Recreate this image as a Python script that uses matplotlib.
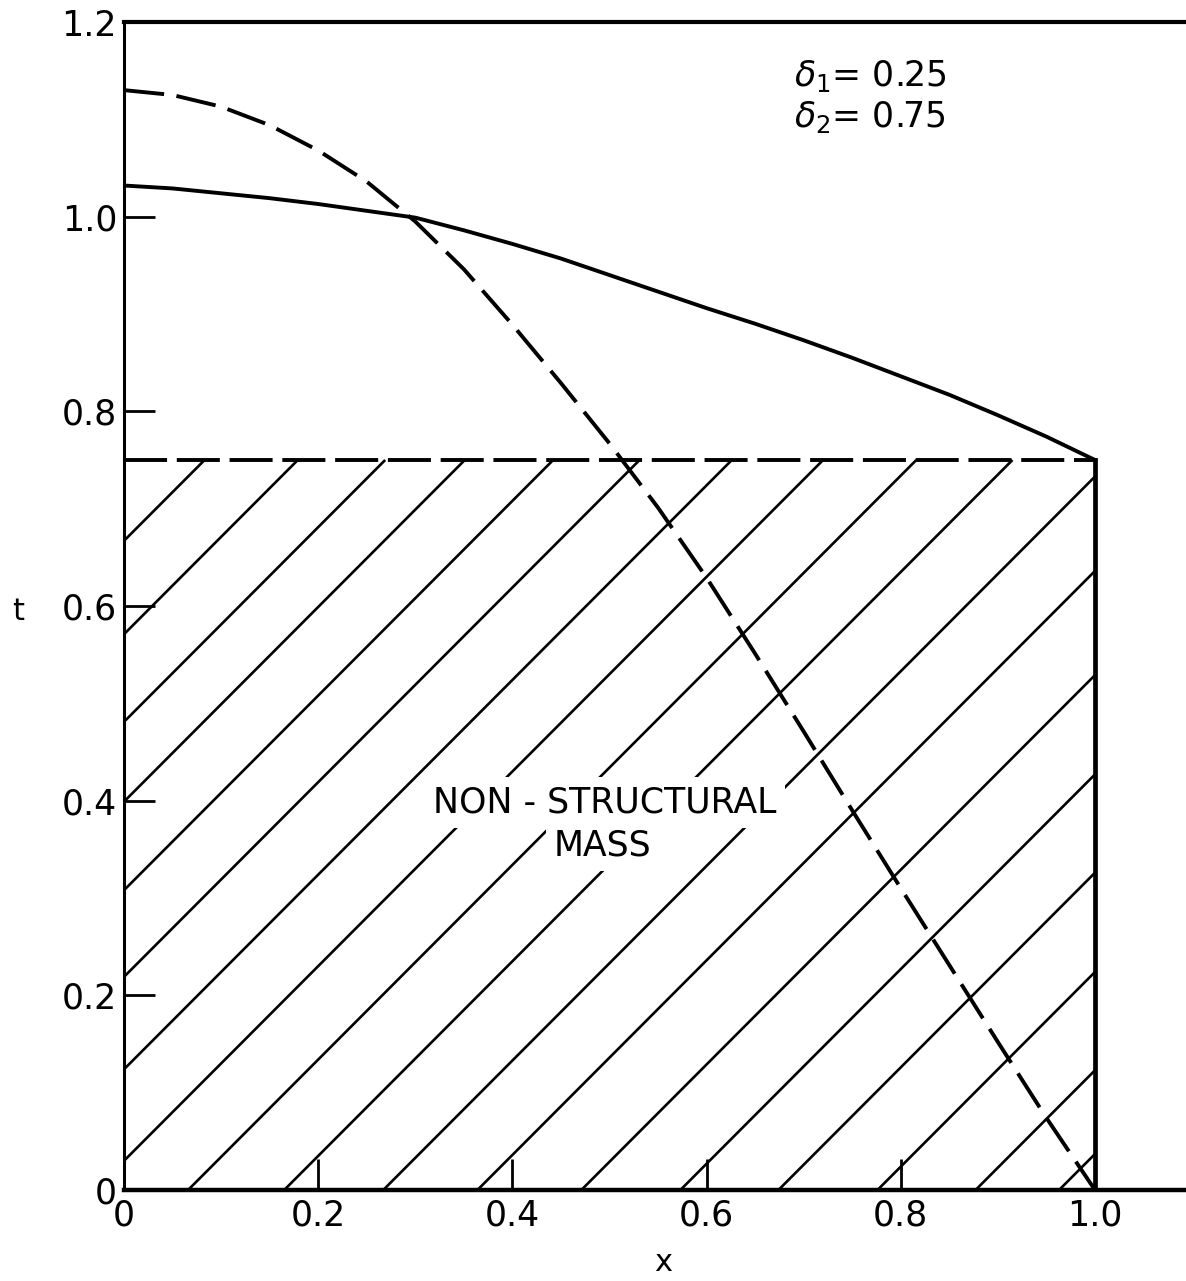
import matplotlib.pyplot as plt
import numpy as np

plt.rcParams['font.family'] = 'DejaVu Sans'
plt.rcParams['lines.scale_dashes'] = False

# stations along the span
x_vals = [0.00, 0.05, 0.10, 0.15, 0.20, 0.25, 0.30, 0.35, 0.40, 0.45, 0.50,
          0.55, 0.60, 0.65, 0.70, 0.75, 0.80, 0.85, 0.90, 0.95, 1.00]
# thickness distribution (solid curve)
t_solid = [1.032, 1.029, 1.024, 1.019, 1.013, 1.006, 0.999, 0.986, 0.972, 0.957, 0.940,
           0.923, 0.906, 0.890, 0.873, 0.855, 0.836, 0.817, 0.796, 0.774, 0.750]
# comparison distribution (long-dash curve)
t_dashed = [1.130, 1.125, 1.113, 1.094, 1.068, 1.036, 0.995, 0.946, 0.889, 0.829, 0.767,
            0.701, 0.629, 0.551, 0.471, 0.390, 0.310, 0.231, 0.152, 0.074, 0.000]

# non-structural mass block
delta_1 = 0.25
delta_2 = 0.75
nsm_end = 1.0
# x-intercepts (t = 0) of the hand-drawn 45 deg hatch lines
hatch_x0 = [-0.667, -0.571, -0.481, -0.399, -0.308, -0.219, -0.124, -0.030, 0.066,
            0.165, 0.267, 0.364, 0.471, 0.573, 0.674, 0.776, 0.877, 0.963]

x_ticks = [0.0, 0.2, 0.4, 0.6, 0.8, 1.0]
x_tick_labels = ['0', '0.2', '0.4', '0.6', '0.8', '1.0']
y_ticks = [0.0, 0.2, 0.4, 0.6, 0.8, 1.0, 1.2]
y_tick_labels = ['0', '0.2', '0.4', '0.6', '0.8', '1.0', '1.2']

W, H = 1186, 1281
fig = plt.figure(figsize=(W / 100, H / 100), dpi=100)
ax = fig.add_axes([124 / W, 91 / H, (W - 124) / W, 1168 / H])
ax.set_xlim(0, (W - 124) / 971)
ax.set_ylim(0, 1.2)

# spines: left, bottom and a full-width top rule
ax.spines['right'].set_visible(False)
ax.spines['left'].set_linewidth(2.2)
ax.spines['bottom'].set_linewidth(3.2)
ax.spines['top'].set_linewidth(3.0)

ax.set_xticks(x_ticks)
ax.set_xticklabels(x_tick_labels)
ax.set_yticks(y_ticks)
ax.set_yticklabels(y_tick_labels)
ax.tick_params(axis='both', direction='in', length=22, width=2.0,
               labelsize=25, colors='black')
ax.tick_params(axis='x', pad=6)
ax.tick_params(axis='y', pad=5)

ax.set_xlabel('x', fontsize=22)
ax.xaxis.set_label_coords(0.508, -0.062)
ax.xaxis.label.set_va('center')
ax.set_ylabel('t', fontsize=22, rotation=0)
ax.yaxis.set_label_coords(-0.100, 0.495)
ax.yaxis.label.set_va('center')
ax.yaxis.label.set_ha('center')

# hatch lines clipped to the block 0 <= x <= 1, 0 <= t <= delta_2
for d in hatch_x0:
    xs = max(0.0, d)
    xe = min(nsm_end, delta_2 + d)
    ax.plot([xs, xe], [xs - d, xe - d], color='black', lw=1.9,
            solid_capstyle='butt', zorder=2)

# block outline: dashed top, solid right side
ax.plot([0, nsm_end], [delta_2, delta_2], color='black', lw=2.8,
        linestyle=(0, (31, 7)), zorder=3)
ax.plot([nsm_end, nsm_end], [0, delta_2], color='black', lw=3.4, zorder=3)

# thickness curves
ax.plot(x_vals, t_solid, color='black', lw=2.8, zorder=3)
ax.plot(x_vals, t_dashed, color='black', lw=2.8,
        linestyle=(0, (29, 9)), zorder=3)

box = dict(facecolor='white', edgecolor='none', pad=6)
ax.text(0.495, 0.398, 'NON - STRUCTURAL', fontsize=25, ha='center',
        va='center', bbox=box, zorder=4)
ax.text(0.493, 0.354, 'MASS', fontsize=25, ha='center', va='center',
        bbox=box, zorder=4)

ax.text(0.690, 1.134, r'$\delta_1$= ' + f'{delta_1:.2f}', fontsize=25,
        ha='left', va='baseline')
ax.text(0.690, 1.092, r'$\delta_2$= ' + f'{delta_2:.2f}', fontsize=25,
        ha='left', va='baseline')

fig.savefig('out.png', dpi=100)
